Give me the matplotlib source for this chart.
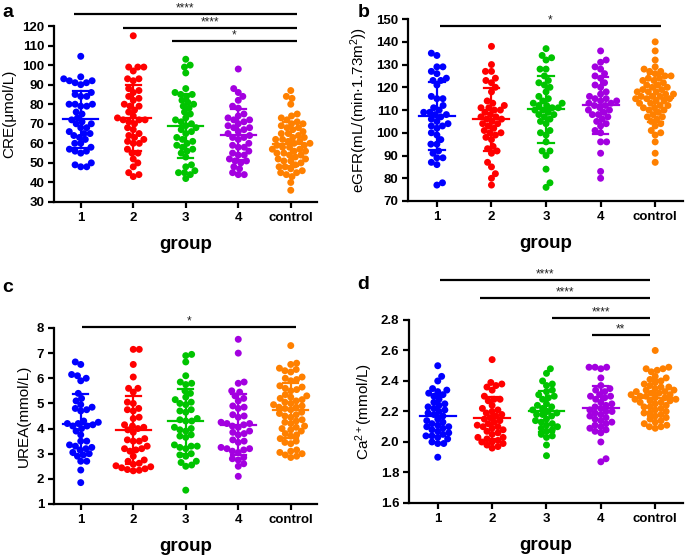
import numpy as np
import matplotlib
matplotlib.use('Agg')
import matplotlib.pyplot as plt

plt.rcParams['font.family'] = ['Liberation Sans', 'DejaVu Sans']
plt.rcParams['mathtext.fontset'] = 'custom'
plt.rcParams['mathtext.rm'] = 'Liberation Sans'
plt.rcParams['mathtext.it'] = 'Liberation Sans:italic'
plt.rcParams['mathtext.bf'] = 'Liberation Sans:bold'

groups = ['1', '2', '3', '4', 'control']
colors = ['#0000FF', '#FF0000', '#00C400', '#A300E0', '#FF8000']

# ---- panel a: CRE (umol/L)
cre_1 = [104.5, 94, 93, 92, 92, 91, 91, 90, 86, 85, 84, 84, 80, 80, 80, 79, 79, 76, 75, 73, 72, 71, 70,
         70, 68, 68, 66, 65, 65, 64, 63, 62, 60, 60, 58, 57, 56, 56, 55, 50, 49, 48, 48]
cre_2 = [115, 99, 99, 99, 97, 93, 93, 92, 88, 87, 86, 84, 83, 82, 80, 79, 79, 77, 76, 74, 73, 72, 72, 72,
         71, 70, 68, 67, 65, 64, 63, 62, 61, 60, 60, 57, 55, 55, 52, 50, 48, 45, 44, 43]
cre_3 = [103, 100, 99, 96, 88, 86, 85, 85, 84, 82, 81, 80, 79, 78, 76, 75, 73, 72, 71, 70, 69, 68, 67, 66,
         65, 63, 62, 61, 60, 59, 58, 57, 56, 55, 53, 49, 48, 46, 45, 45, 44, 42]
cre_4 = [98, 88, 86, 84, 82, 79, 78, 75, 74, 73, 72, 72, 71, 70, 69, 68, 68, 67, 66, 65, 64, 63, 63, 62,
         60, 59, 58, 58, 56, 55, 54, 54, 52, 51, 51, 50, 48, 47, 45, 44, 44]
cre_c = [87, 84, 83, 80, 75, 74, 73, 72, 71, 70, 70, 69, 68, 68, 67, 66, 65, 65, 64, 63, 63, 62, 62,
         61, 61, 60, 60, 59, 59, 58, 58, 57, 57, 56, 56, 55, 55, 54, 54, 53, 52, 52, 51, 51, 50, 49, 48, 48,
         47, 46, 45, 45, 44, 43, 40, 36]

# ---- panel b: eGFR
egfr_1 = [135, 134, 129, 129, 127, 126, 124, 123, 123, 121, 116, 115, 115, 112, 111, 110, 109, 109, 108,
          108, 107, 106, 105, 104, 103, 103, 102, 100, 99, 97, 95, 95, 92, 91, 89, 89, 87, 86, 78, 77]
egfr_2 = [138, 130, 127, 127, 124, 123, 122, 120, 118, 114, 113, 112, 111, 111, 110, 110, 109, 108, 107,
          107, 106, 106, 105, 104, 104, 103, 102, 101, 100, 100, 99, 98, 97, 94, 93, 92, 91, 87, 85, 82,
          80, 77]
egfr_3 = [137, 134, 133, 132, 128, 128, 125, 123, 122, 121, 120, 118, 116, 115, 114, 113, 113, 112, 112,
          111, 111, 110, 110, 109, 108, 108, 107, 106, 105, 104, 101, 100, 99, 96, 92, 92, 90, 84, 78, 76]
egfr_4 = [136, 132, 131, 129, 128, 126, 125, 124, 122, 121, 120, 118, 117, 116, 115, 115, 114, 114, 113,
          113, 112, 112, 111, 110, 110, 109, 108, 108, 107, 106, 105, 104, 103, 101, 100, 96, 96, 91, 83, 80]
egfr_c = [140, 136, 132, 129, 128, 127, 127, 126, 125, 125, 124, 124, 123, 123, 122, 121, 121, 120, 120,
          119, 119, 118, 118, 118, 117, 117, 116, 116, 116, 115, 115, 115, 114, 114, 113, 113, 112, 112,
          111, 111, 110, 110, 109, 108, 107, 107, 106, 105, 104, 103, 101, 100, 99, 96, 91, 87]

# ---- panel c: UREA (mmol/L)
urea_1 = [6.65, 6.55, 6.15, 6.1, 6.0, 5.9, 5.4, 5.2, 5.1, 4.95, 4.85, 4.8, 4.75, 4.7, 4.3, 4.25, 4.2, 4.2,
          4.15, 4.1, 4.1, 4.0, 3.9, 3.75, 3.5, 3.5, 3.35, 3.3, 3.25, 3.2, 3.15, 3.05, 3.0, 2.95, 2.9, 2.7,
          2.7, 2.35, 1.85]
urea_2 = [7.15, 7.15, 6.55, 6.05, 5.6, 5.6, 5.45, 5.05, 5.0, 4.8, 4.75, 4.7, 4.45, 4.4, 4.15, 4.1, 4.05,
          4.0, 3.95, 3.85, 3.6, 3.55, 3.5, 3.5, 3.3, 3.2, 3.2, 3.15, 3.1, 2.9, 2.75, 2.7, 2.62, 2.58, 2.52,
          2.48, 2.44, 2.4, 2.37, 2.34, 2.32]
urea_3 = [6.95, 6.9, 6.65, 6.1, 5.85, 5.8, 5.75, 5.5, 5.4, 5.25, 5.15, 5.05, 5.0, 4.95, 4.75, 4.7, 4.65,
          4.4, 4.35, 4.3, 4.3, 4.05, 4.0, 3.95, 3.9, 3.75, 3.7, 3.65, 3.35, 3.3, 3.3, 3.25, 3.2, 3.0, 2.95,
          2.9, 2.7, 2.65, 2.55, 2.5, 1.55]
urea_4 = [7.55, 7.0, 5.85, 5.8, 5.5, 5.45, 5.3, 5.2, 5.1, 4.9, 4.85, 4.8, 4.55, 4.5, 4.45, 4.25, 4.2, 4.2,
          4.15, 4.1, 4.05, 3.9, 3.85, 3.8, 3.75, 3.55, 3.5, 3.45, 3.25, 3.2, 3.2, 3.15, 3.1, 3.05, 2.85,
          2.8, 2.75, 2.6, 2.5, 2.1]
urea_c = [7.3, 6.6, 6.55, 6.4, 6.35, 6.3, 6.25, 6.05, 6.0, 5.95, 5.9, 5.7, 5.65, 5.6, 5.55, 5.5, 5.35,
          5.3, 5.25, 5.2, 5.15, 5.1, 5.05, 5.0, 4.95, 4.9, 4.85, 4.85, 4.8, 4.75, 4.65, 4.6, 4.55, 4.5, 4.45,
          4.35, 4.3, 4.25, 4.2, 4.1, 4.05, 4.0, 3.95, 3.9, 3.8, 3.75, 3.7, 3.6, 3.5, 3.45, 3.4, 3.15,
          3.1, 3.05, 3.0, 2.95, 2.9, 2.85]

# ---- panel d: Ca2+ (mmol/L)
ca_1 = [2.50, 2.43, 2.40, 2.35, 2.34, 2.33, 2.32, 2.31, 2.30, 2.28, 2.26, 2.25, 2.24, 2.23, 2.22, 2.21,
        2.20, 2.19, 2.18, 2.17, 2.15, 2.14, 2.13, 2.12, 2.11, 2.10, 2.10, 2.09, 2.08, 2.07, 2.06, 2.05,
        2.04, 2.04, 2.03, 2.02, 2.00, 1.99, 1.99, 1.90]
ca_2 = [2.54, 2.39, 2.38, 2.37, 2.36, 2.34, 2.30, 2.28, 2.28, 2.27, 2.24, 2.22, 2.21, 2.20, 2.19, 2.18,
        2.17, 2.16, 2.15, 2.14, 2.13, 2.12, 2.11, 2.10, 2.10, 2.09, 2.08, 2.07, 2.06, 2.05, 2.03, 2.03,
        2.02, 2.01, 2.00, 2.00, 1.99, 1.98, 1.97, 1.96]
ca_3 = [2.48, 2.45, 2.40, 2.38, 2.37, 2.34, 2.33, 2.31, 2.30, 2.29, 2.28, 2.25, 2.24, 2.23, 2.22, 2.21,
        2.20, 2.19, 2.18, 2.18, 2.17, 2.15, 2.14, 2.13, 2.12, 2.11, 2.10, 2.09, 2.08, 2.07, 2.05, 2.04,
        2.03, 1.98, 1.91]
ca_4 = [2.49, 2.49, 2.49, 2.48, 2.42, 2.37, 2.35, 2.34, 2.33, 2.31, 2.30, 2.30, 2.29, 2.28, 2.26, 2.25,
        2.24, 2.23, 2.22, 2.21, 2.20, 2.20, 2.19, 2.18, 2.17, 2.16, 2.15, 2.14, 2.13, 2.12, 2.11, 2.10,
        2.09, 2.08, 2.07, 2.06, 2.00, 1.89, 1.87]
ca_c = [2.60, 2.49, 2.48, 2.48, 2.47, 2.46, 2.43, 2.42, 2.41, 2.40, 2.39, 2.38, 2.37, 2.36, 2.36, 2.35,
        2.34, 2.34, 2.33, 2.33, 2.32, 2.32, 2.31, 2.31, 2.30, 2.30, 2.29, 2.29, 2.28, 2.28, 2.27, 2.27,
        2.26, 2.26, 2.25, 2.24, 2.23, 2.23, 2.22, 2.21, 2.20, 2.19, 2.19, 2.18, 2.17, 2.16, 2.15, 2.14,
        2.13, 2.12, 2.11, 2.10, 2.10, 2.09]

# significance comparisons: (group index start, stars)
sig_a = [(0, '****'), (1, '****'), (2, '*')]
sig_b = [(0, '*')]
sig_c = [(0, '*')]
sig_d = [(0, '****'), (1, '****'), (2, '****'), (3, '**')]

fig = plt.figure(figsize=(6.85, 5.58), dpi=100)


def swarm_offsets(ax, x0, vals, d):
    trans = ax.transData
    pts = trans.transform(np.column_stack([np.full(len(vals), x0), vals]))
    ys = pts[:, 1]
    order = np.argsort(ys, kind='stable')
    placed = []
    offs = np.zeros(len(vals))
    side = 1
    for i in order:
        y = ys[i]
        neigh = [(px, py) for px, py in placed if abs(py - y) < d]
        cands = [0.0]
        for px, py in neigh:
            dx = np.sqrt(d * d - (py - y) ** 2)
            cands += [px + dx, px - dx]
        cands = sorted(set(round(c, 4) for c in cands), key=lambda c: (round(abs(c), 2), -side * c))
        chosen = 0.0
        for c in cands:
            if all((c - px) ** 2 + (y - py) ** 2 >= d * d - 1e-3 for px, py in neigh):
                chosen = c
                break
        if chosen != 0:
            side = -side
        placed.append((chosen, y))
        offs[i] = chosen
    xunit = trans.transform([[1, 0]])[0, 0] - trans.transform([[0, 0]])[0, 0]
    return offs / xunit


def panel(rect, data, ylim, yticks, ylabel, xlim, sig, sig_ys, sig_x0s, sig_x1, fmt=None):
    ax = fig.add_axes(rect)
    ax.set_xlim(*xlim)
    ax.set_ylim(*ylim)
    for s in ['top', 'right']:
        ax.spines[s].set_visible(False)
    for s in ['left', 'bottom']:
        ax.spines[s].set_linewidth(1.6)
    ax.set_yticks(yticks)
    if fmt:
        ax.set_yticklabels([fmt % t for t in yticks])
    ax.set_xticks(range(len(groups)))
    ax.set_xticklabels(groups)
    ax.tick_params(width=1.6, length=4, labelsize=9.5, pad=3)
    for lab in ax.get_xticklabels() + ax.get_yticklabels():
        lab.set_fontweight('bold')
    ax.set_ylabel(ylabel, fontsize=11, labelpad=4)
    ax.set_xlabel('group', fontsize=13.5, fontweight='bold', labelpad=9)
    for gi, (vals, col) in enumerate(zip(data, colors)):
        v = np.asarray(vals, dtype=float)
        offs = swarm_offsets(ax, gi, v, 6.0)
        ax.scatter(gi + offs, v, s=25, color=col, edgecolors='none', zorder=2, clip_on=False)
        m = v.mean()
        sd = v.std(ddof=1)
        ax.plot([gi - 0.33, gi + 0.33], [m, m], color=col, lw=1.6, zorder=3)
        ax.plot([gi, gi], [m - sd, m + sd], color=col, lw=1.6, zorder=3)
        for yy in (m - sd, m + sd):
            ax.plot([gi - 0.14, gi + 0.14], [yy, yy], color=col, lw=1.6, zorder=3)
    for (g0, stars), yb, x0 in zip(sig, sig_ys, sig_x0s):
        ax.plot([x0, sig_x1], [yb, yb], color='black', lw=1.6, clip_on=False, solid_capstyle='butt')
        ax.text((x0 + sig_x1) / 2, yb, stars, ha='center', va='bottom', fontsize=8.5,
                color='#222222', clip_on=False)
    return ax


panel([0.0788, 0.638, 0.384, 0.3154], [cre_1, cre_2, cre_3, cre_4, cre_c], (30, 120),
      np.arange(30, 121, 10), 'CRE(μmol/L)', (-0.51, 4.5), sig_a,
      [126.1, 119.0, 112.3], [-0.13, 0.8, 1.73], 4.11)

panel([0.5956, 0.6398, 0.4015, 0.326], [egfr_1, egfr_2, egfr_3, egfr_4, egfr_c], (70, 150),
      np.arange(70, 151, 10), 'eGFR(mL/(min·1.73m$^{2}$))', (-0.53, 4.51), sig_b,
      [146.9], [0.055], 4.11)

panel([0.0788, 0.0968, 0.384, 0.3154], [urea_1, urea_2, urea_3, urea_4, urea_c], (1, 8),
      np.arange(1, 9, 1), 'UREA(mmol/L)', (-0.51, 4.5), sig_c,
      [8.03], [0.02], 4.1)

panel([0.597, 0.0986, 0.400, 0.328], [ca_1, ca_2, ca_3, ca_4, ca_c], (1.6, 2.8),
      np.round(np.arange(1.6, 2.81, 0.2), 1), 'Ca$^{2+}$(mmol/L)', (-0.53, 4.51), sig_d,
      [3.062, 2.944, 2.813, 2.70], [0.04, 0.77, 2.11, 2.83], 3.9, fmt='%.1f')

for letter, x, y in [('a', 0.004, 0.978), ('b', 0.522, 0.978), ('c', 0.004, 0.485), ('d', 0.522, 0.49)]:
    fig.text(x, y, letter, fontsize=14, fontweight='bold', ha='left', va='center')

fig.savefig('out.png', dpi=100)
